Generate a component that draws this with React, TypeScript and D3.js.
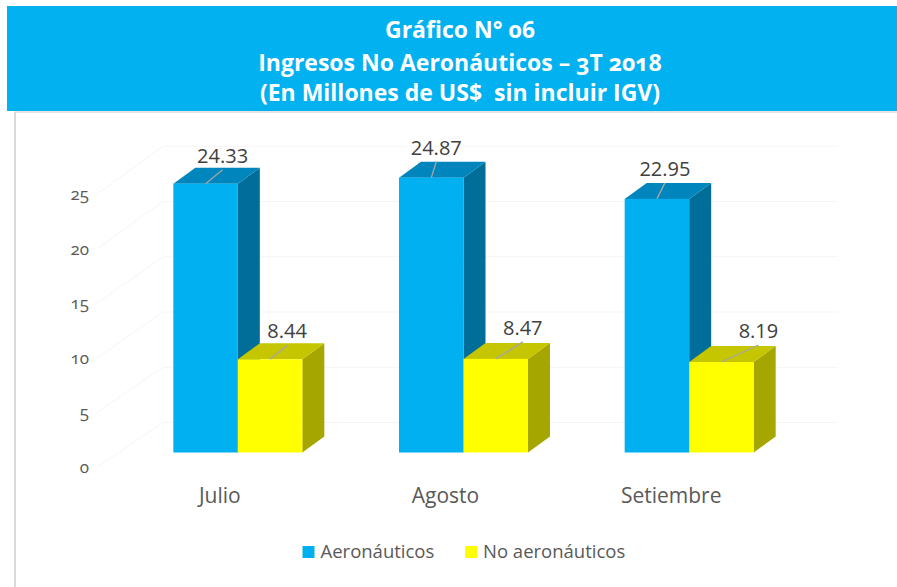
import React from "react";
import * as d3 from "d3";

const categories = ["Julio", "Agosto", "Setiembre"];
const seriesNames = ["Aeronáuticos", "No aeronáuticos"];
const aeronauticos = [24.33, 24.87, 22.95];
const noAeronauticos = [8.44, 8.47, 8.19];
const yTicks = [0, 5, 10, 15, 20, 25];
const titleLines = ["Gráfico N° 06", "Ingresos No Aeronáuticos – 3T 2018", "(En Millones de US$  sin incluir IGV)"];

// layout / style (not data)
const W = 897;
const H = 587;
const frontColors = ["#00B0F0", "#FFFF00"];
const topColors = ["#0086BC", "#C6C600"];
const sideColors = ["#006E98", "#A6A600"];
const DEPTH_X = 22;
const DEPTH_Y = -16;
// leader-line nudges per [series][category]
const leaderNudge = [
  [[17, -14], [5, -16], [8, -16]],
  [[17, -14], [27, -17], [37, -17]],
];

export default function App() {
  const x = d3.scaleBand<string>().domain(categories).range([125, 802]).padding(0);
  const inner = d3.scaleBand<string>().domain(seriesNames).range([-64.5, 64.5]).padding(0);
  const y = d3.scaleLinear().domain([0, 25]).range([452.5, 452.5 - 276.25]);
  const yLab = d3.scaleLinear().domain([0, 25]).range([467, 194]);
  const series = [aeronauticos, noAeronauticos];
  const font = "'Open Sans', 'Noto Sans', sans-serif";
  const wallBackX0 = 163;
  const wallBackX1 = 838;
  const wallFrontX = 97;
  const wallDy = -30;

  const bars: React.ReactNode[] = [];
  const labels: React.ReactNode[] = [];
  categories.forEach((c, ci) => {
    series.forEach((vals, si) => {
      const v = vals[ci];
      const cx = (x(c) as number) + x.bandwidth() / 2;
      const x0 = cx + (inner(seriesNames[si]) as number);
      const x1 = x0 + inner.bandwidth();
      const yt = y(v);
      const yb = y(0);
      const dx = DEPTH_X;
      const dy = DEPTH_Y;
      bars.push(
        <g key={`b${ci}-${si}`}>
          <polygon
            points={`${x1},${yt} ${x1 + dx},${yt + dy} ${x1 + dx},${yb + dy} ${x1},${yb}`}
            fill={sideColors[si]}
          />
          <polygon
            points={`${x0},${yt} ${x0 + dx},${yt + dy} ${x1 + dx},${yt + dy} ${x1},${yt}`}
            fill={topColors[si]}
          />
          <rect x={x0} y={yt} width={x1 - x0} height={yb - yt} fill={frontColors[si]} />
        </g>
      );
      const sx = (x0 + x1) / 2;
      const [ndx, ndy] = leaderNudge[si][ci];
      const ex = sx + ndx;
      const ey = yt + ndy;
      labels.push(
        <g key={`l${ci}-${si}`}>
          <line x1={sx} y1={yt} x2={ex} y2={ey} stroke="#A6A6A6" strokeWidth={1.3} />
          <text
            x={ex}
            y={ey - 7}
            textAnchor="middle"
            fontFamily={font}
            fontSize={20}
            fill="#404040"
          >
            {v.toFixed(2)}
          </text>
        </g>
      );
    });
  });

  return (
    <svg
      width={W}
      height={H}
      style={{ position: "absolute", left: 0, top: 0, background: "#fff" }}
    >
      <rect x={0} y={0} width={W} height={H} fill="#ffffff" />
      {/* title banner */}
      <rect x={7} y={6} width={W - 7} height={105} fill="#02B1F0" />
      <line x1={14} y1={112} x2={W} y2={112} stroke="#E4E4E4" strokeWidth={2} />
      <line x1={15} y1={112} x2={15} y2={H} stroke="#D9D9D9" strokeWidth={2} />
      {titleLines.map((t, i) => (
        <text
          key={t}
          x={460}
          y={[38, 71, 101][i]}
          textAnchor="middle"
          fontFamily={font}
          fontWeight={700}
          fontSize={23}
          fill="#ffffff"
          style={{ fontVariantNumeric: "oldstyle-nums", whiteSpace: "pre" }}
        >
          {t}
        </text>
      ))}
      {/* faint walls gridlines */}
      {yTicks.map((t) => (
        <g key={`g${t}`} stroke="#F5F5F5" strokeWidth={1}>
          <line x1={wallFrontX} y1={yLab(t)} x2={wallBackX0} y2={y(t) + wallDy} />
          <line x1={wallBackX0} y1={y(t) + wallDy} x2={wallBackX1} y2={y(t) + wallDy} />
        </g>
      ))}
      {/* y tick labels */}
      {yTicks.map((t) => (
        <text
          key={`t${t}`}
          x={89}
          y={yLab(t)}
          dy="0.35em"
          textAnchor="end"
          fontFamily={font}
          fontSize={17}
          fill="#595959"
          style={{ fontVariantNumeric: "oldstyle-nums" }}
        >
          {t}
        </text>
      ))}
      {bars}
      {labels}
      {/* category labels */}
      {categories.map((c) => (
        <text
          key={c}
          x={(x(c) as number) + x.bandwidth() / 2 - 18}
          y={503}
          textAnchor="middle"
          fontFamily={font}
          fontSize={21}
          fill="#595959"
        >
          {c}
        </text>
      ))}
      {/* legend */}
      {seriesNames.map((s, i) => {
        const lx = [302.5, 465][i];
        return (
          <g key={s}>
            <rect x={lx} y={546} width={12} height={12} fill={frontColors[i]} />
            <text x={lx + 18} y={558} fontFamily={font} fontSize={18.5} fill="#595959">
              {s}
            </text>
          </g>
        );
      })}
    </svg>
  );
}
